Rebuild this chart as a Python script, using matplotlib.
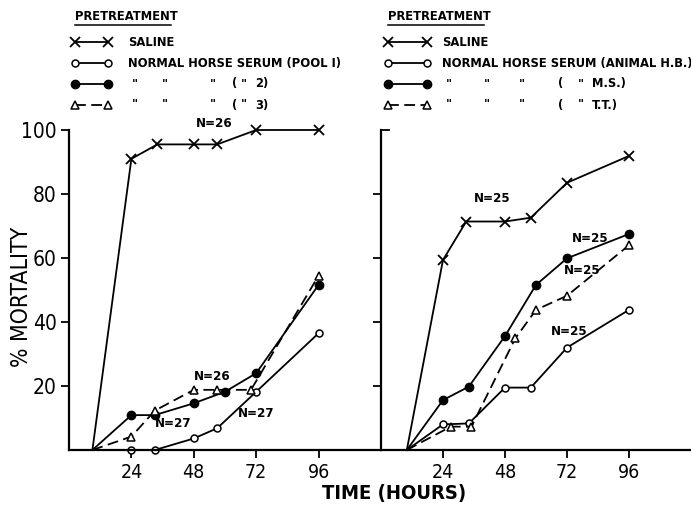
import matplotlib
matplotlib.use('Agg')
import matplotlib.pyplot as plt
from matplotlib.lines import Line2D

# --- data (hours, % mortality) ---
left_saline_h = [9, 24, 34, 48, 57, 72, 96]
left_saline = [0, 91, 95.5, 95.5, 95.5, 100, 100]
left_pool1_h = [9, 24, 33, 48, 57, 72, 96]
left_pool1 = [0, 0, 0, 3.6, 6.8, 18.2, 36.5]
left_pool2_h = [9, 24, 33, 48, 60, 72, 96]
left_pool2 = [0, 10.9, 10.9, 14.6, 18.2, 24, 51.6]
left_pool3_h = [9, 24, 33, 48, 57, 70, 96]
left_pool3 = [0, 4.2, 12.3, 18.8, 18.8, 18.8, 54.5]

right_saline_h = [10, 24, 33, 48, 58, 72, 96]
right_saline = [0, 59.4, 71.4, 71.4, 72.6, 83.5, 91.9]
right_hb_h = [10, 24, 34, 48, 58, 72, 96]
right_hb = [0, 8, 8.3, 19.5, 19.5, 32, 43.8]
right_ms_h = [10, 24, 34, 48, 60, 72, 96]
right_ms = [0, 15.6, 19.8, 35.6, 51.6, 59.9, 67.5]
right_tt_h = [10, 27, 35, 52, 60, 72, 96]
right_tt = [0, 7.3, 7.3, 34.9, 43.8, 48.2, 64]

left_notes = [("N=26", 56, 102), ("N=26", 55, 23), ("N=27", 40, 8.4), ("N=27", 72, 11.5)]
right_notes = [("N=25", 43, 78.7), ("N=25", 81, 66), ("N=25", 78, 56), ("N=25", 73, 37)]

x_ticks = [24, 48, 72, 96]
y_ticks = [20, 40, 60, 80, 100]

plt.rcParams['font.family'] = ['DejaVu Sans']
plt.rcParams['font.stretch'] = 'condensed'
W, H = 691, 508

fig = plt.figure(figsize=(W / 100, H / 100), dpi=100)
ax1 = fig.add_axes([69 / W, 58 / H, 312 / W, 320 / H])
ax2 = fig.add_axes([381 / W, 58 / H, 310 / W, 320 / H])

lw = 1.3
saline_kw = dict(color='black', lw=lw, marker='x', ms=6.5, mew=1.3)
open_kw = dict(color='black', lw=lw, marker='o', ms=5, mfc='white', mew=1.1)
fill_kw = dict(color='black', lw=lw, marker='o', ms=6)
tri_kw = dict(color='black', lw=lw, marker='^', ms=6, mfc='white', mew=1.1, dashes=(6, 3))

for ax, sets in [
    (ax1, [(left_saline_h, left_saline, saline_kw), (left_pool1_h, left_pool1, open_kw),
           (left_pool2_h, left_pool2, fill_kw), (left_pool3_h, left_pool3, tri_kw)]),
    (ax2, [(right_saline_h, right_saline, saline_kw), (right_hb_h, right_hb, open_kw),
           (right_ms_h, right_ms, fill_kw), (right_tt_h, right_tt, tri_kw)]),
]:
    for h, v, kw in sets:
        # first point (start of the curve) carries no marker
        ax.plot(h, v, **kw, markevery=list(range(1, len(h))), clip_on=False)
    ax.set_xlim(0, 120)
    ax.set_ylim(0, 100)
    ax.spines['top'].set_visible(False)
    ax.spines['right'].set_visible(False)
    ax.spines['left'].set_linewidth(1.6)
    ax.spines['bottom'].set_linewidth(1.6)
    ax.set_xticks(x_ticks)
    ax.set_xticklabels([str(t) for t in x_ticks], fontsize=14)
    ax.set_yticks(y_ticks)
    ax.tick_params(direction='out', length=6, width=1.3, pad=3)
    ax.set_facecolor('none')

ax1.set_yticklabels([str(t) for t in y_ticks], fontsize=15)
ax2.set_yticks([20, 40, 60, 80])
ax2.set_yticklabels([])
ax2.axhline(100, xmin=0, xmax=0.025, color='black', lw=1.3, clip_on=False)

for ax, notes in [(ax1, left_notes), (ax2, right_notes)]:
    for txt, h, v in notes:
        ax.text(h, v, txt, fontsize=9.5, fontweight='bold',
                ha='center', va='center', clip_on=False)

fig.text(22 / W, 1 - 297 / H, '% MORTALITY', rotation=90,
         fontsize=16.5, ha='center', va='center')
fig.text(394 / W, 1 - 494 / H, 'TIME (HOURS)', fontsize=14.5,
         fontweight='bold', ha='center', va='center')

# --- legends drawn in pixel space ---
lg = fig.add_axes([0, 0, 1, 1])
lg.set_xlim(0, W)
lg.set_ylim(H, 0)
lg.axis('off')
lg.set_facecolor('none')

rows = [42, 63, 84, 105]
styles = [saline_kw, open_kw, fill_kw, tri_kw]
fs = 9.3
for x0, x1, tx, ditto_x, last in [
    (75, 108, 128, [132, 162, 210, 232, 241], ['NORMAL HORSE SERUM (POOL I)', '2)', '3)']),
    (388, 427, 442, [446, 484, 519, 558, 578], ['NORMAL HORSE SERUM (ANIMAL H.B.)', 'M.S.)', 'T.T.)']),
]:
    lg.text(x0, 17, 'PRETREATMENT', fontsize=fs, fontweight='bold', va='center')
    lg.add_line(Line2D([x0, x0 + 96], [25, 25], color='black', lw=1.1))
    for y, kw in zip(rows, styles):
        lg.add_line(Line2D([x0, x1], [y, y], **kw))
    lg.text(tx, rows[0], 'SALINE', fontsize=fs, fontweight='bold', va='center')
    lg.text(tx, rows[1], last[0], fontsize=fs, fontweight='bold', va='center')
    for y, end in zip(rows[2:], last[1:]):
        for dx in ditto_x[:3]:
            lg.text(dx, y, '"', fontsize=fs, fontweight='bold', va='center')
        lg.text(ditto_x[3], y, '(', fontsize=fs, fontweight='bold', va='center')
        lg.text(ditto_x[4], y, '"', fontsize=fs, fontweight='bold', va='center')
        lg.text(ditto_x[4] + 14, y, end, fontsize=fs, fontweight='bold', va='center')

fig.savefig('out.png', dpi=100)
